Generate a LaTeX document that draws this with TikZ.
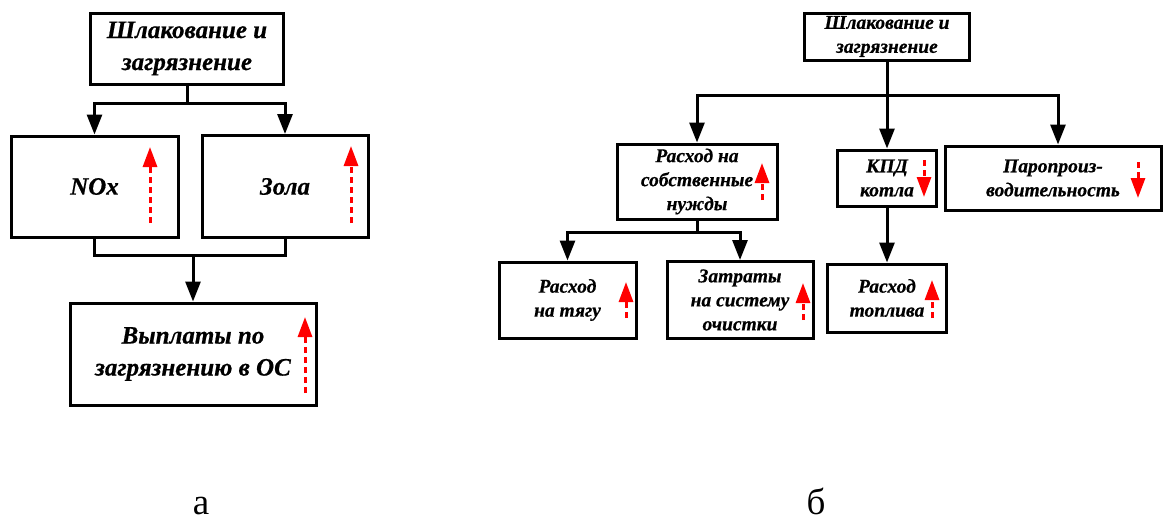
\documentclass[tikz,border=0pt]{standalone}
\usepackage{fontspec}
\setmainfont{Liberation Serif}[BoldItalicFeatures = {FakeBold = 0.6}]
\usetikzlibrary{positioning,arrows.meta}

\begin{document}
\begin{tikzpicture}[x = 1pt, y = -1pt, node distance = 100pt and 100pt, on grid,
                    line width = 3pt,
                    box/.style   = {rectangle,
                                    draw,
                                    black,
                                    line width = 3pt,
                                    inner sep = 0pt,
                                    align = center},
                    big/.style   = {box, font = \fontsize{25}{32}\selectfont\bfseries\itshape},
                    small/.style = {box, font = \fontsize{19.5}{24}\selectfont\bfseries\itshape},
                    dims/.style 2 args = {minimum width = #1, minimum height = #2},
                    link/.style  = {-{Triangle[width = 15pt, length = 20pt]}},
                    trend/.style = {red,
                                    line width = 3pt,
                                    dash pattern = on 6pt off 4pt,
                                    -{Triangle[width = 14pt, length = 20pt]}}]

\useasboundingbox (0,0) rectangle (1163,522);

% a
\node[big, dims = {193pt}{71pt}] (slag) at (187,48.5) {Шлакование и\\загрязнение};
\node[big, dims = {167pt}{101pt}] (nox) [below left = 138pt and 92.5pt of slag] {NOx};
\node[big, dims = {166pt}{102pt}] (ash) [right = 190.5pt of nox] {Зола};
\node[big, dims = {246pt}{102pt}] (pay) [below right = 167.5pt and 98.5pt of nox] {Выплаты по\\загрязнению в ОС};

\draw[link] (slag.south) -- ++(0,18) -| (nox.north);
\draw[link] (slag.south) -- ++(0,18) -| (ash.north);
\draw (nox.south) -- ++(0,17) -| (ash.south);
\draw[link] (nox.south) ++(0,17) -| (pay.north);

\draw[trend] (150,223) -- (150,147);
\draw[trend] (351,223) -- (351,146);
\draw[trend] (305,393) -- (305,317);

% b
\node[small, dims = {165pt}{47pt}] (slag2) at (887,36.5) {Шлакование и\\загрязнение};
\node[small, dims = {160pt}{75pt}] (own) [below left = 145pt and 190pt of slag2] {Расход на\\собственные\\нужды};
\node[small, dims = {99pt}{56pt}] (eff) [below = 141.5pt of slag2] {КПД\\котла};
\node[small, dims = {216pt}{64pt}] (steam) [right = 166pt of eff] {Паропроиз-\\водительность};
\node[small, dims = {137pt}{76pt}] (draft) [below left = 118.5pt and 129.5pt of own] {Расход\\на тягу};
\node[small, dims = {146pt}{77pt}] (clean) [right = 172.5pt of draft] {Затраты\\на систему\\очистки};
\node[small, dims = {119pt}{68pt}] (fuel) [below = 120pt of eff] {Расход\\топлива};

\draw[link] (slag2.south) -- ++(0,34) -| (own.north);
\draw[link] (slag2.south) -- (eff.north);
\draw[link] (slag2.south) ++(0,34) -| ([xshift = 5pt]steam.north);
\draw[link] (own.south) -- ++(0,12) -| (draft.north);
\draw[link] (own.south) ++(0,12) -| (clean.north);
\draw[link] (eff.south) -- (fuel.north);

\draw[trend] (762,200) -- (762,163);
\draw[trend] (924,160) -- (924,197);
\draw[trend] (1138,162) -- (1138,198);
\draw[trend] (626,318) -- (626,282);
\draw[trend] (803,320) -- (803,283);
\draw[trend] (932,318) -- (932,280);

\node[anchor = base, inner sep = 0pt, font = \fontsize{37}{40}\selectfont] (capa) at (201,514) {а};
\node[anchor = base, inner sep = 0pt, font = \fontsize{37}{40}\selectfont] (capb) at (816,514) {б};

\end{tikzpicture}
\end{document}
